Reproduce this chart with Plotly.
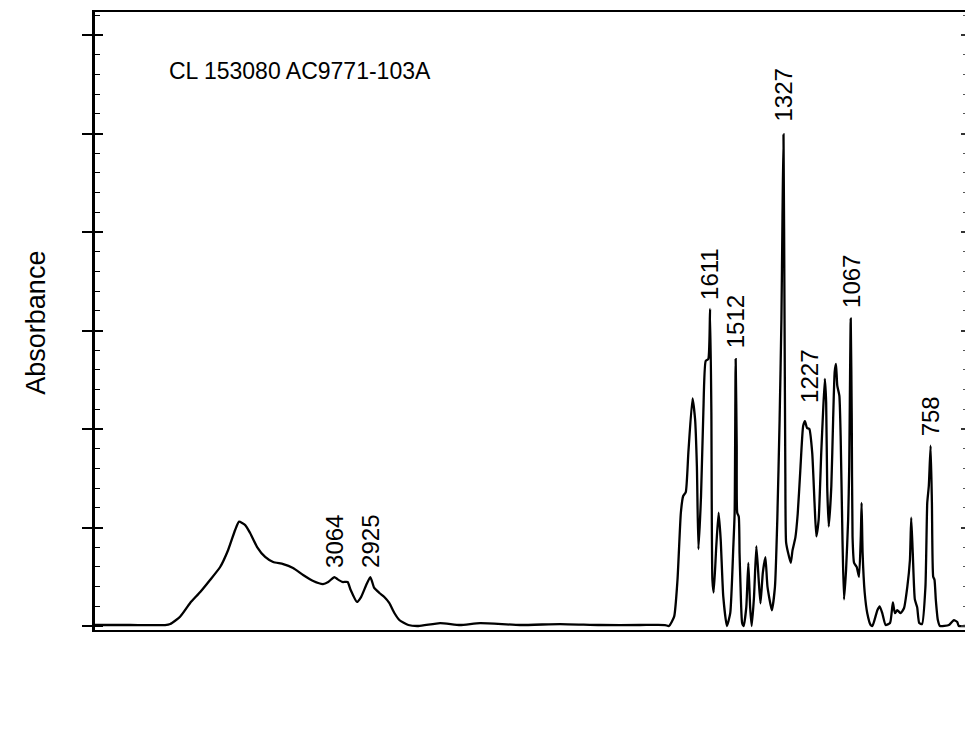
import numpy as np
import plotly.graph_objects as go

# ---------------- data ----------------
# Broad O-H / C-H band region
band_wn = [3990, 3854, 3719, 3699, 3661, 3622, 3583, 3545, 3506, 3475,
           3448, 3433, 3409, 3390, 3363, 3332, 3301, 3262, 3224, 3185,
           3146, 3108, 3088, 3064, 3053, 3033, 3013, 3001, 2977, 2961,
           2941, 2925, 2910, 2890, 2871, 2852, 2832, 2813, 2778, 2739]
band_abs = [0.001, 0.001, 0.001, 0.002, 0.0094, 0.0234, 0.0345, 0.0467, 0.0599, 0.0772,
            0.0975, 0.1059, 0.1025, 0.0944, 0.0802, 0.0701, 0.0650, 0.0629, 0.0589, 0.0518,
            0.0457, 0.0426, 0.0447, 0.0497, 0.0477, 0.0447, 0.0447, 0.0365, 0.0244, 0.0294,
            0.0416, 0.0497, 0.0386, 0.0335, 0.0294, 0.0234, 0.0132, 0.0061, 0.001, 0.0]

# Flat region
flat_wn = [2655, 2578, 2500, 2346, 2191, 2036, 1882, 1785]
flat_abs = [0.003, 0.001, 0.003, 0.001, 0.002, 0.001, 0.001, 0.001]

# Fingerprint region, part A (1770 - 1512)
fpa_wn = [1770, 1750, 1737, 1724, 1715, 1705, 1695, 1679, 1669, 1662,
          1656, 1646, 1637, 1628, 1618, 1611, 1606, 1602, 1597, 1587,
          1578, 1570, 1560, 1546, 1533, 1521, 1516, 1512]
fpa_abs = [0.0, 0.0095, 0.047, 0.115, 0.132, 0.136, 0.176, 0.231, 0.210, 0.162,
           0.078, 0.132, 0.217, 0.269, 0.271, 0.322, 0.217, 0.047, 0.034, 0.081,
           0.115, 0.088, 0.030, 0.0, 0.013, 0.081, 0.115, 0.271]

# Fingerprint region, part B (1508 - 1227)
fpb_wn = [1508, 1506, 1500, 1497, 1494, 1487, 1481, 1471, 1463, 1456,
          1450, 1441, 1432, 1423, 1416, 1407, 1397, 1389, 1372, 1360,
          1351, 1342, 1335, 1331, 1327, 1323, 1320, 1317, 1309, 1299,
          1292, 1281, 1272, 1262, 1251, 1244, 1236, 1227]
fpb_abs = [0.183, 0.115, 0.111, 0.074, 0.047, 0.003, 0.0, 0.019, 0.064, 0.019,
           0.0, 0.030, 0.081, 0.047, 0.023, 0.054, 0.070, 0.040, 0.016, 0.040,
           0.108, 0.210, 0.312, 0.414, 0.499, 0.312, 0.159, 0.085, 0.074, 0.064,
           0.077, 0.090, 0.114, 0.158, 0.203, 0.208, 0.201, 0.200]

# Fingerprint region, part C (1216 - 758)
fpc_wn = [1216, 1207, 1200, 1191, 1181, 1174, 1167, 1162, 1158, 1152,
          1142, 1135, 1129, 1124, 1119, 1111, 1106, 1099, 1093, 1085,
          1077, 1073, 1067, 1063, 1060, 1054, 1044, 1035, 1028, 1025,
          1021, 1013, 1003, 990, 983, 964, 955, 945, 932, 915,
          904, 896, 887, 874, 861, 848, 838, 833, 827, 819,
          810, 802, 791, 778, 771, 765, 758]
fpc_abs = [0.176, 0.125, 0.091, 0.108, 0.176, 0.217, 0.251, 0.227, 0.142, 0.101,
           0.142, 0.210, 0.258, 0.266, 0.244, 0.234, 0.193, 0.090, 0.027, 0.057,
           0.108, 0.159, 0.312, 0.210, 0.091, 0.064, 0.060, 0.050, 0.091, 0.125,
           0.074, 0.034, 0.013, 0.001, 0.0, 0.016, 0.020, 0.013, 0.001, 0.003,
           0.024, 0.013, 0.016, 0.013, 0.018, 0.040, 0.067, 0.110, 0.074, 0.027,
           0.019, 0.003, 0.002, 0.040, 0.125, 0.142, 0.183]

# Tail (753 - 625)
tail_wn = [753, 748, 743, 738, 730, 722, 687, 668, 655, 649, 625]
tail_abs = [0.125, 0.050, 0.047, 0.027, 0.006, 0.0, 0.001, 0.006, 0.004, 0.0, 0.0]

# Peak labels
peak_labels = ["3064", "2925", "1611", "1512", "1327", "1227", "1067", "758"]
peak_wn = [3064, 2925, 1611, 1512, 1327, 1227, 1067, 758]

sample_title = "CL 153080 AC9771-103A"
y_title = "Absorbance"

# ---------------- assemble ----------------
wn = band_wn + flat_wn + fpa_wn + fpb_wn + fpc_wn + tail_wn
ab = band_abs + flat_abs + fpa_abs + fpb_abs + fpc_abs + tail_abs
assert len(wn) == len(ab)

X_RANGE = [3990, 625]
Y_RANGE = [-0.00406, 0.6234]
FONT = "Liberation Sans, Arial, Helvetica, sans-serif"

fig = go.Figure()
fig.add_trace(go.Scatter(x=wn, y=ab, mode="lines",
                         line=dict(color="black", width=2.3, shape="spline",
                                   smoothing=0.5),
                         showlegend=False, hoverinfo="skip"))
# invisible copies to carry the extra tick-only axes
for ya in ("y2", "y3"):
    fig.add_trace(go.Scatter(x=wn, y=ab, mode="lines", yaxis=ya,
                             line=dict(color="rgba(0,0,0,0)", width=1),
                             showlegend=False, hoverinfo="skip"))

# peak annotations (rotated)
wn_arr = np.array(wn[::-1], dtype=float)
ab_arr = np.array(ab[::-1], dtype=float)
shifts = {"1227": 24, "1327": 11, "1512": 9, "1067": 9}
for lab, w in zip(peak_labels, peak_wn):
    yv = float(np.interp(w, wn_arr, ab_arr))
    fig.add_annotation(x=w, y=yv, text=lab, showarrow=False, textangle=-90,
                       xanchor="center", yanchor="bottom",
                       yshift=shifts.get(lab, 7),
                       font=dict(family=FONT, size=24, color="black"))

fig.add_annotation(x=0.0828, y=0.9045, xref="paper", yref="paper",
                   text=sample_title, showarrow=False,
                   xanchor="left", yanchor="middle",
                   font=dict(family=FONT, size=23, color="black"))
fig.add_annotation(x=-0.068, y=0.497, xref="paper", yref="paper",
                   text=y_title, showarrow=False, textangle=-90,
                   xanchor="center", yanchor="middle",
                   font=dict(family=FONT, size=27, color="black"))

fig.update_layout(
    width=965, height=741, autosize=False,
    margin=dict(l=95, r=0, t=12, b=111, pad=0),
    paper_bgcolor="white", plot_bgcolor="white",
    xaxis=dict(range=X_RANGE, showline=True, mirror=True, linecolor="black",
               linewidth=2, ticks="", showticklabels=False, showgrid=False,
               zeroline=False),
    yaxis=dict(range=Y_RANGE, showline=True, linecolor="black", linewidth=2.5,
               ticks="outside", ticklen=10, tickwidth=1.5, tickcolor="black",
               tick0=0, dtick=0.1, showticklabels=False, showgrid=False,
               zeroline=False,
               minor=dict(ticks="inside", ticklen=5, tickwidth=1.2,
                          tickcolor="black", dtick=0.02, tick0=0, showgrid=False)),
    yaxis2=dict(range=Y_RANGE, overlaying="y", side="right", showline=False,
                ticks="inside", ticklen=4, tickwidth=1.5, tickcolor="#333",
                tick0=0, dtick=0.1, showticklabels=False, showgrid=False,
                zeroline=False,
                minor=dict(ticks="inside", ticklen=2, tickwidth=1.2,
                           tickcolor="#555", dtick=0.02, tick0=0, showgrid=False)),
    yaxis3=dict(range=Y_RANGE, overlaying="y", side="left", showline=False,
                ticks="inside", ticklen=8, tickwidth=1.5, tickcolor="black",
                tick0=0, dtick=0.1, showticklabels=False, showgrid=False,
                zeroline=False),
)

fig.write_html("out.html")
